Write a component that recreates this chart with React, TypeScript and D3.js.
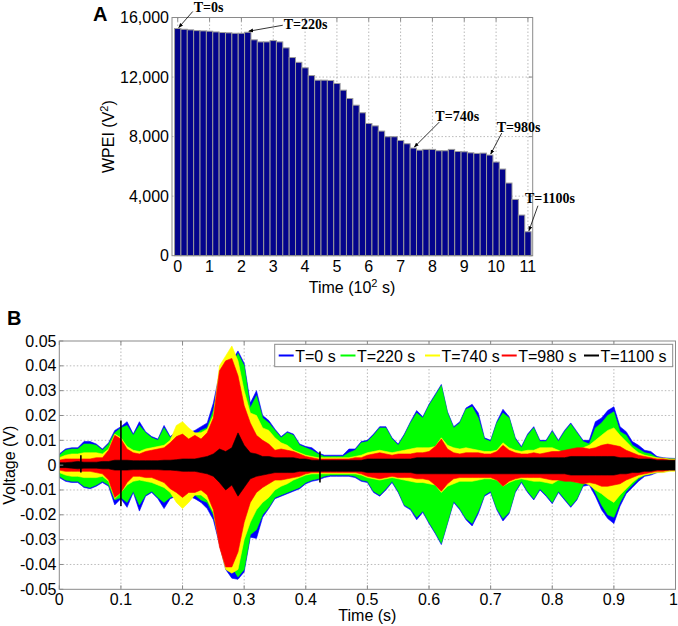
import * as d3 from 'd3';

// ---- Panel A: WPEI per 20 s step (V^2) ----
const wpei = [
  15260, 15210, 15170, 15120, 15100, 15080, 15030, 14990, 14970, 14940,
  14940, 15010, 14500, 14360, 14360, 14450, 14360, 13960, 13310, 12990,
  12620, 12100, 11790, 11790, 11770, 11570, 11120, 10560, 10110, 9600,
  8880, 8720, 8370, 7990, 7990, 7740, 7520, 7230, 7090, 7140,
  7140, 7050, 7050, 7140, 7000, 6980, 6910, 6870, 6890, 6760,
  6290, 5820, 4880, 3780, 2730, 1610,
];
const barStep = 0.2; // 20 s in units of 10^2 s
const aYTicks = [0, 4000, 8000, 12000, 16000];
const aXTicks = [0, 1, 2, 3, 4, 5, 6, 7, 8, 9, 10, 11];
const annoIdx = [0, 11, 37, 49, 55];
const annoText = ['T=0s', 'T=220s', 'T=740s', 'T=980s', 'T=1100s'];

// ---- Panel B: signal envelopes in mV, sampled every 0.01 s ----
const tGrid = d3.range(101).map((i) => i / 100);

const blueHi = [
  4.5, 6.5, 7, 7, 9.5, 9.5, 8.5, 6.5, 9, 14,
  15.5, 17.5, 12.5, 17.5, 13.5, 11.5, 10.5, 16, 11.5, 13.5,
  13.5, 13, 14, 15.5, 17, 25, 37, 40, 42, 46,
  41, 25, 30, 20, 18, 14.5, 11.5, 13.5, 12.5, 8.5,
  7.5, 7, 5, 4, 4, 4, 4, 6.5, 6.5, 9.5,
  10, 12.5, 15.5, 15.5, 11, 8.5, 12.5, 17.5, 22, 19.5,
  24.5, 28.5, 32.5, 21.5, 15.5, 17.5, 23, 24.5, 21, 11,
  10, 17.5, 22.5, 19.5, 11, 7.5, 12.5, 15.5, 10, 10,
  14, 10, 14, 17, 13.5, 10, 10, 17.5, 19, 22,
  23.5, 15.5, 13.5, 9.5, 8, 6, 5.5, 3.5, 3, 2.8,
  2.7,
];
const blueLo = [
  -5, -6.5, -7, -7, -9, -9.5, -8.5, -7, -8.5, -16,
  -13.5, -17, -11, -18.5, -12.5, -11, -13.5, -17.5, -13.5, -12.5,
  -13.5, -12.5, -13.5, -15, -17.5, -22, -32, -42, -45.5, -46,
  -43, -29, -29.5, -21, -17.5, -13.5, -12.5, -11.5, -10.5, -9.5,
  -7.5, -6.5, -6, -5, -4.5, -4.5, -4.5, -4.5, -5, -6.5,
  -7, -11, -12.5, -10, -7, -11, -16.5, -18, -22, -19,
  -23.5, -27.5, -32, -23.5, -15, -18, -22, -24.5, -19.5, -12.5,
  -11, -18, -22.5, -19.5, -11, -7, -11, -14, -10, -12.5,
  -15.5, -11, -14, -17, -14, -8.5, -8, -12.5, -18, -21.5,
  -23.5, -16.5, -11.5, -9, -6.5, -4.5, -4, -3, -2.8, -2.3,
  -1.8,
];
const greenHi = [
  4, 6, 6.5, 6.5, 8.5, 8.5, 8, 6, 8.5, 13,
  15, 16, 12, 16, 13, 11, 10, 15, 11, 13,
  13, 12, 12, 14, 15, 22, 34, 38, 40, 45,
  40, 23, 28, 19, 17, 14, 11, 13, 12, 8,
  7, 6, 4.5, 3.5, 3.5, 3.5, 3.5, 5, 6, 9,
  9.5, 12, 15, 15, 10.5, 8, 12, 17, 21, 19,
  24, 28, 32, 21, 15, 17, 22.5, 23.5, 19, 10.5,
  9.5, 17, 21, 19, 10.5, 7, 12, 15, 9.5, 9.5,
  13.5, 9.5, 13.5, 16.5, 13, 9.5, 8.5, 15, 17, 20,
  21.5, 13.5, 12, 8, 6.5, 5, 4.5, 3, 2.7, 2.5,
  2.5,
];
const greenLo = [
  -4.5, -6, -6.5, -6.5, -8.5, -9, -8, -6.5, -8, -14,
  -13, -15, -10.5, -16, -12, -10.5, -13, -15, -13, -12,
  -13, -12, -12, -14, -15, -20, -30, -36, -41, -45,
  -42, -28, -26, -20, -17, -13, -12, -11, -10, -9,
  -7, -6, -5.5, -4.5, -4, -4, -4, -4, -4.5, -6,
  -6.5, -10.5, -12, -9.5, -6.5, -10.5, -16, -17.5, -21, -18.5,
  -23, -27, -31.5, -23, -14.5, -17.5, -21.5, -23.5, -18.5, -12,
  -10.5, -17.5, -21.5, -19, -10.5, -6.5, -10.5, -13.5, -9.5, -12,
  -15, -10.5, -13.5, -16.5, -13.5, -8, -6.5, -11, -16, -20,
  -21, -15, -10.5, -8, -5.5, -4, -3.5, -2.5, -2.5, -2,
  -1.5,
];
const yellowHi = [
  3, 4, 4.5, 4.5, 5, 5, 5, 4.5, 6.5, 12.5,
  11, 7.5, 6, 5.5, 6.5, 7, 7.5, 8, 10, 16,
  17.5, 15, 13, 13, 14.5, 20, 40, 44, 48, 42,
  30, 21, 20, 15, 14, 11, 9, 8, 6, 5,
  4, 3.5, 3, 3, 3, 3, 3, 3, 3.5, 4,
  5, 5.5, 6, 5.5, 5, 5.5, 6, 6.5, 7, 7,
  7, 7.5, 11, 8, 7, 6.5, 7, 6.5, 6, 5.5,
  5.5, 6, 9, 7, 6, 5.5, 6, 6, 7, 7,
  7, 6, 5, 5.5, 6.5, 7, 8, 10, 12, 14,
  15, 12, 9.5, 7, 5, 4, 3.5, 3, 2.8, 2.5,
  2.5,
];
const yellowLo = [
  -3, -4, -4.5, -4.5, -5, -5, -5, -4.5, -6.5, -13.5,
  -11, -8, -6.5, -6, -6.5, -7, -8, -9, -11, -15,
  -17.5, -15, -12, -12, -14, -19, -32, -42, -43.5, -42,
  -30, -23, -18, -15, -13, -10, -8.5, -7.5, -6, -5,
  -4, -3.5, -3.5, -3.5, -3.5, -3.5, -3.5, -3.5, -3.5, -4,
  -5, -5.5, -6, -5.5, -5, -5.5, -6, -6.5, -7, -7,
  -7.5, -8, -11, -8.5, -7.5, -6.5, -6.5, -6.5, -6, -5.5,
  -5.5, -6, -8.5, -7, -6, -5.5, -6, -6.5, -6.5, -7,
  -7.5, -6, -5.5, -6, -7, -7, -8, -10, -11.5, -13.5,
  -15, -12, -9.5, -7, -5, -4, -3.5, -3, -3, -2.5,
  -2.5,
];
const redHi = [
  2, 2.5, 2.5, 2.5, 2.5, 2.5, 3, 3, 6, 12,
  10.5, 6.5, 5, 4.5, 5.5, 6, 6.5, 7, 9, 11.5,
  12.5, 10.5, 12, 10.5, 13, 19, 38, 42, 43, 36,
  24, 17, 12, 10, 8.5, 6, 6.5, 6, 5.5, 4.5,
  3.5, 3, 2.5, 2.5, 2.5, 2.5, 2.5, 2.5, 3, 3,
  4, 4.5, 5, 4.5, 4, 4.5, 4.5, 4.5, 5, 5,
  5.5, 7.5, 10.5, 6.5, 5, 4.5, 5, 5, 5, 4.5,
  4.5, 5.5, 8, 6, 5, 4.5, 4.5, 5, 4.5, 5,
  5.5, 5.5, 6, 6.5, 7, 7, 6.5, 7, 8, 8.5,
  8, 7.5, 6, 5, 4, 3.5, 3, 2.5, 2.5, 2,
  2,
];
const redLo = [
  -2, -2.5, -2.5, -2.5, -2.5, -2.5, -3, -3.5, -6, -13,
  -11, -7, -4.5, -4.5, -5, -5, -6, -7, -9.5, -11,
  -13, -11, -11, -10, -12, -18, -33, -41, -41, -35,
  -23, -15, -11, -9, -7.5, -6, -6, -5.5, -5, -4.5,
  -3.5, -3, -3, -3, -3, -3, -3, -3, -3, -3.5,
  -4.5, -5, -5.5, -5, -4.5, -5, -5, -5, -5.5, -5.5,
  -6, -8, -10.5, -7.5, -5.5, -5, -5, -5, -5, -5,
  -5, -6, -8.5, -6.5, -5.5, -5, -5, -5, -5, -5.5,
  -6, -6, -6.5, -6.5, -7, -7.5, -7, -7.5, -8.5, -8.5,
  -8, -7.5, -6, -5, -4, -3.5, -3, -2.5, -2.5, -2,
  -2,
];
const blackHi = [
  1, 1, 1.2, 1.5, 1.2, 1.2, 1.2, 1.5, 1.5, 2,
  2, 2, 1.8, 1.8, 1.8, 1.8, 1.8, 2, 2, 2.2,
  2.5, 2.5, 2.5, 3, 3.5, 4.5, 6.5, 5.5, 7, 13,
  8, 5, 4.5, 3.5, 3.5, 3, 3, 3, 3, 2.5,
  2.5, 2, 2, 2, 2, 2, 2, 2, 2, 2,
  2.5, 2.5, 2.5, 2.5, 2.5, 2.5, 2.5, 2.5, 3, 3,
  3, 3, 3, 3, 3, 3, 3, 3, 3, 3,
  3, 3, 3, 3, 3, 3, 3, 3, 3, 3,
  3, 3, 3, 3.5, 3.5, 3.5, 3.5, 3.5, 3.5, 3.5,
  3.5, 3, 3, 3, 2.5, 2.5, 2.5, 2, 2, 2,
  2,
];
const blackLo = [
  -1, -1, -1.2, -1.5, -1.2, -1.2, -1.2, -1.5, -1.5, -2,
  -2, -2, -1.8, -1.8, -1.8, -1.8, -1.8, -2, -2, -2.2,
  -2.5, -2.5, -2.5, -3, -3.5, -4.5, -7, -10, -8, -12.5,
  -9, -5.5, -4.5, -4, -3.5, -3, -3, -3, -3, -2.5,
  -2.5, -2.5, -2.5, -2.5, -2.5, -2.5, -2.5, -2.5, -2.5, -2.5,
  -3, -3, -3, -3, -3, -3, -3, -3, -3.5, -3.5,
  -3.5, -3.5, -3.5, -3.5, -3.5, -3.5, -3.5, -3.5, -3.5, -3.5,
  -3.5, -3.5, -3.5, -3.5, -3.5, -3.5, -3.5, -3.5, -3.5, -3.5,
  -3.5, -3.5, -3.5, -4, -4, -4, -4, -4, -4, -4,
  -4, -3.5, -3.5, -3, -3, -2.5, -2.5, -2, -2, -2,
  -2,
];
// isolated spikes of the T=1100 s trace
const spikeT = [0.035, 0.1, 0.423];
const spikeHi = [4, 18, 5.5];
const spikeLo = [-3, -16.5, -7];

const seriesNames = ['T=0 s', 'T=220 s', 'T=740 s', 'T=980 s', 'T=1100 s'];
const seriesColors = ['#0000ff', '#00ff00', '#ffff00', '#ff0000', '#000000'];
const seriesHi = [blueHi, greenHi, yellowHi, redHi, blackHi];
const seriesLo = [blueLo, greenLo, yellowLo, redLo, blackLo];
const bXTicks = [0, 0.1, 0.2, 0.3, 0.4, 0.5, 0.6, 0.7, 0.8, 0.9, 1];
const bYTicks = [0.05, 0.04, 0.03, 0.02, 0.01, 0, -0.01, -0.02, -0.03, -0.04, -0.05];

const SANS = '"Liberation Sans", Arial, sans-serif';
const SERIF = '"Liberation Serif", "Times New Roman", serif';
const FRAME = '#8a8a8a';
const GRID = '#a8a8a8';

export default function App() {
  // panel A geometry
  const aL = 172, aR = 532.7, aT = 17.5, aB = 255.7;
  const xA = d3.scaleLinear().domain([-0.18, 11.15]).range([aL, aR]);
  const yA = d3.scaleLinear().domain([0, 16000]).range([aB, aT]);
  const bw = xA(barStep) - xA(0);

  // panel B geometry
  const bL = 59.3, bR = 675.5, bT = 341, bB = 589.3;
  const xB = d3.scaleLinear().domain([0, 1]).range([bL, bR]);
  const yB = d3.scaleLinear().domain([-0.05, 0.05]).range([bB, bT]);

  const band = (hi: number[], lo: number[]) =>
    d3
      .area<number>()
      .x((_, i) => xB(tGrid[i]))
      .y0((_, i) => yB(lo[i] / 1000))
      .y1((d) => yB(d / 1000))(hi) || '';

  const legendX = [278.7, 340.5, 425, 501.7, 584];
  const tickLen = 4;

  return (
    <div style={{ position: 'absolute', left: 0, top: 0 }}>
      <svg width={678} height={626} style={{ display: 'block', background: '#fff' }}>
        <defs>
          <marker id="arr" viewBox="0 0 10 10" refX="9" refY="5" markerWidth="6" markerHeight="6" orient="auto">
            <path d="M0,1 L10,5 L0,9 z" fill="#000" />
          </marker>
          <clipPath id="clipB">
            <rect x={bL} y={bT} width={bR - bL} height={bB - bT} />
          </clipPath>
        </defs>

        {/* ===== Panel A ===== */}
        <text x={93} y={21} fontFamily={SANS} fontWeight="bold" fontSize={20}>A</text>
        {aXTicks.map((t) => (
          <line key={'ga' + t} x1={xA(t)} x2={xA(t)} y1={aT} y2={aB} stroke={GRID} strokeWidth={0.8} strokeDasharray="1.5,2" />
        ))}
        {aYTicks.slice(1, -1).map((v) => (
          <line key={'gy' + v} x1={aL} x2={aR} y1={yA(v)} y2={yA(v)} stroke={GRID} strokeWidth={0.8} strokeDasharray="1.5,2" />
        ))}
        {wpei.map((v, i) => (
          <rect
            key={'bar' + i}
            x={xA(i * barStep) - bw / 2}
            y={yA(v)}
            width={bw}
            height={aB - yA(v)}
            fill="#04048c"
            stroke="#9a9a9a"
            strokeWidth={1}
          />
        ))}
        <rect x={aL} y={aT} width={aR - aL} height={aB - aT} fill="none" stroke={FRAME} strokeWidth={1} />
        {aXTicks.map((t) => (
          <g key={'ta' + t}>
            <line x1={xA(t)} x2={xA(t)} y1={aT} y2={aT + tickLen} stroke={FRAME} />
            <text x={xA(t)} y={271.5} textAnchor="middle" fontFamily={SANS} fontSize={16}>{t}</text>
          </g>
        ))}
        {aYTicks.map((v) => (
          <g key={'tya' + v}>
            <line x1={aR} x2={aR - tickLen} y1={yA(v)} y2={yA(v)} stroke={FRAME} />
            <text x={169} y={yA(v) + 5.5} textAnchor="end" fontFamily={SANS} fontSize={16}>{d3.format(',')(v)}</text>
          </g>
        ))}
        <text x={352} y={293} textAnchor="middle" fontFamily={SANS} fontSize={16}>
          Time (10<tspan dy={-6} fontSize={11}>2</tspan><tspan dy={6}> s)</tspan>
        </text>
        <text transform={`translate(114,${(aT + aB) / 2}) rotate(-90)`} textAnchor="middle" fontFamily={SANS} fontSize={16}>
          WPEI (V<tspan dy={-6} fontSize={11}>2</tspan><tspan dy={6}>)</tspan>
        </text>
        {annoIdx.map((idx, k) => {
          const tx = xA(idx * barStep);
          const ty = yA(wpei[idx]);
          const offs = [
            [15, -17, 16, -17],
            [35, -7, 36, -3],
            [26, -26, 22, -27],
            [12, -22, 7, -23],
            [10, -26, -3, -29],
          ][k];
          return (
            <g key={'an' + k}>
              <line x1={tx + offs[0]} y1={ty + offs[1]} x2={tx + 1} y2={ty - 1} stroke="#000" strokeWidth={0.8} markerEnd="url(#arr)" />
              <text x={tx + offs[2]} y={ty + offs[3]} fontFamily={SERIF} fontWeight="bold" fontSize={14}>{annoText[k]}</text>
            </g>
          );
        })}

        {/* ===== Panel B ===== */}
        <text x={7} y={325} fontFamily={SANS} fontWeight="bold" fontSize={20}>B</text>
        {bXTicks.slice(1, -1).map((t) => (
          <line key={'gbx' + t} x1={xB(t)} x2={xB(t)} y1={bT} y2={bB} stroke={GRID} strokeWidth={0.8} strokeDasharray="1.5,2" />
        ))}
        {bYTicks.slice(1, -1).map((v) => (
          <line key={'gby' + v} x1={bL} x2={bR} y1={yB(v)} y2={yB(v)} stroke={GRID} strokeWidth={0.8} strokeDasharray="1.5,2" />
        ))}
        <g clipPath="url(#clipB)">
          {seriesHi.map((hi, s) => (
            <path key={'sig' + s} d={band(hi, seriesLo[s])} fill={seriesColors[s]} stroke={seriesColors[s]} strokeWidth={0.6} />
          ))}
          {spikeT.map((t, i) => (
            <line key={'sp' + i} x1={xB(t)} x2={xB(t)} y1={yB(spikeHi[i] / 1000)} y2={yB(spikeLo[i] / 1000)} stroke="#000" strokeWidth={1.6} />
          ))}
        </g>
        <rect x={bL} y={bT} width={bR - bL} height={bB - bT} fill="none" stroke={FRAME} strokeWidth={1} />
        {bXTicks.map((t) => (
          <g key={'tbx' + t}>
            <line x1={xB(t)} x2={xB(t)} y1={bT} y2={bT + tickLen} stroke={FRAME} />
            <line x1={xB(t)} x2={xB(t)} y1={bB} y2={bB - tickLen} stroke={FRAME} />
            <text x={t === 1 ? xB(t) - 2 : xB(t)} y={605} textAnchor="middle" fontFamily={SANS} fontSize={16}>{t}</text>
          </g>
        ))}
        {bYTicks.map((v) => (
          <g key={'tby' + v}>
            <line x1={bL} x2={bL + tickLen} y1={yB(v)} y2={yB(v)} stroke={FRAME} />
            <text x={56.5} y={yB(v) + 5.5} textAnchor="end" fontFamily={SANS} fontSize={16}>{v}</text>
          </g>
        ))}
        <text x={(bL + bR) / 2} y={620.5} textAnchor="middle" fontFamily={SANS} fontSize={16}>Time (s)</text>
        <text transform={`translate(15,${(bT + bB) / 2}) rotate(-90)`} textAnchor="middle" fontFamily={SANS} fontSize={16}>Voltage (V)</text>

        {/* legend */}
        <rect x={274.7} y={344.3} width={398} height={22.4} fill="#fff" stroke={FRAME} strokeWidth={1} />
        {seriesNames.map((name, s) => (
          <g key={'lg' + s}>
            <line x1={legendX[s]} x2={legendX[s] + 15} y1={355.5} y2={355.5} stroke={seriesColors[s]} strokeWidth={2} />
            <text x={legendX[s] + 16.5} y={361.5} fontFamily={SANS} fontSize={16}>{name}</text>
          </g>
        ))}
      </svg>
    </div>
  );
}
